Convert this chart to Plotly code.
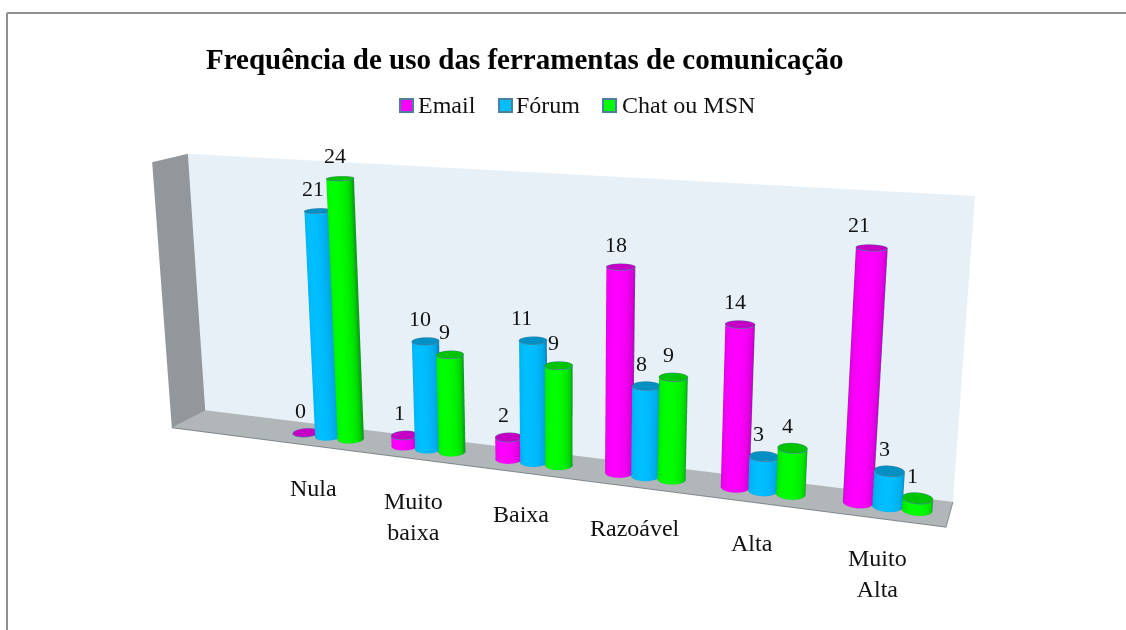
import numpy as np
import plotly.graph_objects as go

TITLE = "Frequência de uso das ferramentas de comunicação"
categories = ["Nula", "Muito<br>baixa", "Baixa", "Razoável", "Alta", "Muito<br>Alta"]
series_names = ["Email", "Fórum", "Chat ou MSN"]
email = [0, 1, 2, 18, 14, 21]
forum = [21, 10, 11, 8, 3, 3]
chat = [24, 9, 9, 9, 4, 1]
AXIS_MAX = 25

W, H = 1126, 630
F = (H / 2) / np.tan(np.pi / 8)
EYE = 2.0
SERIF = "Liberation Serif, Times New Roman, serif"

# camera calibration: scene corners (category axis 0-1, depth 0-1, value axis 0-1) -> picture
world = [(0, 0, 0), (1, 0, 0), (0, 0, 1), (1, 0, 1), (0, 1, 0), (1, 1, 0), (0, 1, 1)]
image = [(205, 410), (953, 502), (188, 154), (975, 196), (172, 428), (946, 527), (152, 162)]
rows, rhs = [], []
for (a, b, c), (u, v) in zip(world, image):
    rows.append([a, b, c, 1, 0, 0, 0, 0, -u * a, -u * b, -u * c]); rhs.append(u)
    rows.append([0, 0, 0, 0, a, b, c, 1, -v * a, -v * b, -v * c]); rhs.append(v)
sol = np.linalg.lstsq(np.array(rows, float), np.array(rhs, float), rcond=None)[0]
P = np.append(sol, 1.0).reshape(3, 4)
P = P * EYE / (P[2] @ np.array([0.5, 0.5, 0.5, 1.0]))


def to_scene(a, b, c):
    p = np.stack([np.asarray(a, float), np.asarray(b, float), np.asarray(c, float),
                  np.ones_like(np.asarray(a, float))])
    h = P @ p
    return (h[0] - W / 2 * h[2]) / F, h[2] - EYE, (H / 2 * h[2] - h[1]) / F


GROUP_START, GROUP_STEP, SERIES_STEP = 0.213, 0.1436, 0.033
RX, RY, DEPTH = 0.0168, 0.22, 0.5
N = 40
COLORS = [
    dict(body=(255, 0, 255), edge=(170, 0, 170), cap="#c400c4"),
    dict(body=(0, 190, 255), edge=(0, 135, 190), cap="#0090c4"),
    dict(body=(0, 255, 0), edge=(0, 165, 0), cap="#00c400"),
]
OUTLINE = "#4d7f9f"
fig = go.Figure()


def rgb(c):
    return "rgb(%d,%d,%d)" % tuple(int(round(x)) for x in c)


def add_mesh(xs, ys, zs, i, j, k, cols):
    X, Y, Z = to_scene(xs, ys, zs)
    fig.add_trace(go.Mesh3d(x=X, y=Y, z=Z, i=i, j=j, k=k, vertexcolor=cols, flatshading=False,
                            lighting=dict(ambient=1, diffuse=0, specular=0, roughness=1, fresnel=0),
                            hoverinfo="skip", showlegend=False))


def add_quad(corners, color):
    a, b, c = zip(*corners)
    add_mesh(a, b, c, [0, 0], [1, 2], [2, 3], [color] * 4)


add_quad([(0, 0, 0), (1, 0, 0), (1, 0, 1), (0, 0, 1)], "#e8f0f7")
add_quad([(0, 0, 0), (0, 1, 0), (0, 1, 1), (0, 0, 1)], "#91979a")
add_quad([(0, 0, 0), (1, 0, 0), (1, 1, 0), (0, 1, 0)], "#b1b6b9")
ex, ey, ez = to_scene([0, 1, 1, 1], [1, 1, 0, 1], [0, 0, 0, 0])
fig.add_trace(go.Scatter3d(x=ex, y=ey, z=ez, mode="lines", line=dict(color="#7d878c", width=2),
                           hoverinfo="skip", showlegend=False))

t = np.linspace(0, 2 * np.pi, N, endpoint=False)
for s, values in enumerate([email, forum, chat]):
    col = COLORS[s]
    vx, vy, vz, vc, I, J, K = [], [], [], [], [], [], []
    lx, ly, lz = [], [], []
    for g, v in enumerate(values):
        cx = GROUP_START + g * GROUP_STEP + (s - 1) * SERIES_STEP
        h = max(v / AXIS_MAX, 0.003)  # a zero bar stays a flat disc just above the floor
        ring_x = cx + RX * np.cos(t)
        ring_y = DEPTH + RY * np.sin(t)
        base = len(vx)
        if v > 0:
            shade = np.clip(np.sin(t), 0, 1) ** 0.55
            for q in range(N):
                c = [e + (b - e) * shade[q] for b, e in zip(col["body"], col["edge"])]
                vx += [ring_x[q], ring_x[q]]; vy += [ring_y[q], ring_y[q]]; vz += [0, h]
                vc += [rgb(c), rgb(c)]
                n = (q + 1) % N
                I += [base + 2 * q, base + 2 * q]
                J += [base + 2 * n, base + 2 * n + 1]
                K += [base + 2 * n + 1, base + 2 * q + 1]
        base = len(vx)
        vx += [cx] + list(ring_x); vy += [DEPTH] + list(ring_y); vz += [h] * (N + 1)
        vc += [col["cap"]] * (N + 1)
        for q in range(N):
            I.append(base); J.append(base + 1 + q); K.append(base + 1 + (q + 1) % N)
        # outlines: cap ring, silhouette and lower rim
        lx += list(ring_x) + [ring_x[0], None]; ly += list(ring_y) + [ring_y[0], None]; lz += [h] * (N + 1) + [None]
        if v > 0:
            lx += list(ring_x) + [ring_x[0], None]; ly += list(ring_y) + [ring_y[0], None]; lz += [0] * (N + 1) + [None]
            for q in (0, N // 2):
                lx += [ring_x[q], ring_x[q], None]; ly += [ring_y[q], ring_y[q], None]; lz += [0, h, None]
    add_mesh(vx, vy, vz, I, J, K, vc)
    ax_ = np.array([np.nan if a is None else a for a in lx])
    ay_ = np.array([np.nan if a is None else a for a in ly])
    az_ = np.array([np.nan if a is None else a for a in lz])
    LX, LY, LZ = to_scene(ax_, ay_, az_)
    fig.add_trace(go.Scatter3d(x=LX, y=LY, z=LZ, mode="lines", line=dict(color=OUTLINE, width=1.5),
                               hoverinfo="skip", showlegend=False, connectgaps=False))

LABEL_NUDGE = {(1, 2): -6, (0, 5): -8}
annotations = []
for s, values in enumerate([email, forum, chat]):
    for g, v in enumerate(values):
        X, Y, Z = to_scene([GROUP_START + g * GROUP_STEP + (s - 1) * SERIES_STEP], [DEPTH], [v / AXIS_MAX])
        annotations.append(dict(x=float(X[0]), y=float(Y[0]), z=float(Z[0]), text=str(v), showarrow=False,
                                xanchor="center", yanchor="middle", xshift=-5 + LABEL_NUDGE.get((s, g), 0), yshift=23,
                                font=dict(family=SERIF, size=22, color="#111111")))
CATEGORY_NUDGE = [-4, -4, -2, 1, 0, 1]
for g, name in enumerate(categories):
    X, Y, Z = to_scene([GROUP_START + g * GROUP_STEP], [DEPTH], [0])
    annotations.append(dict(x=float(X[0]), y=float(Y[0]), z=float(Z[0]), text=name, showarrow=False,
                            xanchor="center", yanchor="top", xshift=-11 + CATEGORY_NUDGE[g], yshift=-37,
                            font=dict(family=SERIF, size=24, color="#111111")))

R = 3.0
axis = dict(visible=False, range=[-R, R], showspikes=False)
paper = []
shapes = [
    dict(type="line", xref="paper", yref="paper", x0=7 / W, x1=1, y0=1 - 13 / H, y1=1 - 13 / H,
         line=dict(color="#909090", width=2)),
    dict(type="line", xref="paper", yref="paper", x0=7 / W, x1=7 / W, y0=0, y1=1 - 13 / H,
         line=dict(color="#909090", width=2)),
]
for x0, x_text, name, col in zip((400, 499, 603), (418, 516, 622), series_names, COLORS):
    shapes.append(dict(type="rect", xref="paper", yref="paper", x0=x0 / W, x1=(x0 + 13) / W,
                       y0=1 - 112 / H, y1=1 - 99 / H, fillcolor=rgb(col["body"]),
                       line=dict(color=OUTLINE, width=2)))
    paper.append(dict(xref="paper", yref="paper", x=x_text / W, y=1 - 105 / H, text=name, showarrow=False,
                      xanchor="left", yanchor="middle", xshift=-2,
                      font=dict(family=SERIF, size=24, color="#111111")))
paper.append(dict(xref="paper", yref="paper", x=524 / W, y=1 - 59 / H, text="<b>" + TITLE + "</b>", showarrow=False,
                  xanchor="center", yanchor="middle", font=dict(family=SERIF, size=29, color="#000000")))

fig.update_layout(
    width=W, height=H, margin=dict(l=0, r=0, t=0, b=0), paper_bgcolor="white", showlegend=False,
    shapes=shapes, annotations=paper,
    scene=dict(domain=dict(x=[0, 1], y=[0, 1]), xaxis=axis, yaxis=axis, zaxis=axis,
               aspectmode="manual", aspectratio=dict(x=2 * R, y=2 * R, z=2 * R),
               bgcolor="white", annotations=annotations,
               camera=dict(eye=dict(x=0, y=-EYE, z=0), center=dict(x=0, y=0, z=0), up=dict(x=0, y=0, z=1))),
)
fig.write_html("out.html", config=dict(displayModeBar=False), post_script="document.body.style.margin='0';")
